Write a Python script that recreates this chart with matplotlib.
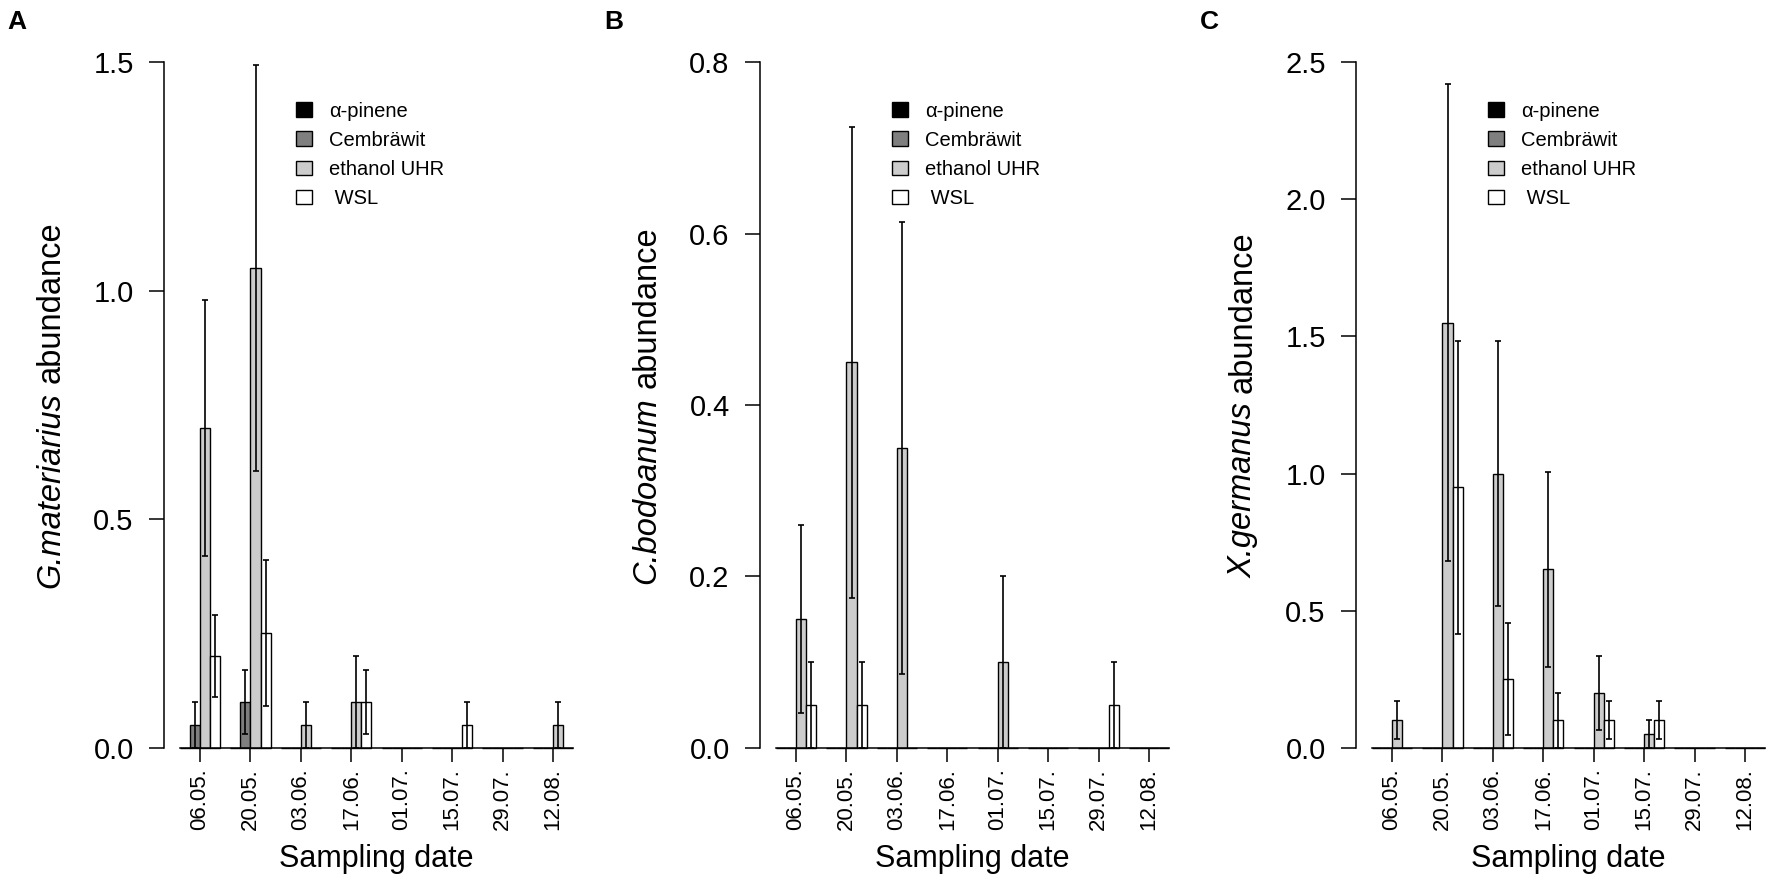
import matplotlib
matplotlib.use("Agg")
import matplotlib.pyplot as plt
import matplotlib.transforms as mtransforms
from matplotlib.patches import Patch
import numpy as np

plt.rcParams['font.family'] = ['Liberation Sans', 'DejaVu Sans']

# ---------------- data ----------------
dates = ["06.05.", "20.05.", "03.06.", "17.06.", "01.07.", "15.07.", "29.07.", "12.08."]
traps = ["α-pinene", "Cembräwit", "ethanol UHR", " WSL"]
trap_colors = ["#000000", "#7f7f7f", "#cccccc", "#ffffff"]

# Panel A: G. materiarius
a_alpha = [0, 0, 0, 0, 0, 0, 0, 0]
a_cemb = [0.05, 0.10, 0, 0, 0, 0, 0, 0]
a_eth = [0.70, 1.05, 0.05, 0.10, 0, 0, 0, 0.05]
a_wsl = [0.20, 0.25, 0, 0.10, 0, 0.05, 0, 0]
a_alpha_se = [0, 0, 0, 0, 0, 0, 0, 0]
a_cemb_se = [0.05, 0.07, 0, 0, 0, 0, 0, 0]
a_eth_se = [0.28, 0.445, 0.05, 0.10, 0, 0, 0, 0.05]
a_wsl_se = [0.09, 0.16, 0, 0.07, 0, 0.05, 0, 0]

# Panel B: C. bodoanum
b_alpha = [0, 0, 0, 0, 0, 0, 0, 0]
b_cemb = [0, 0, 0, 0, 0, 0, 0, 0]
b_eth = [0.15, 0.45, 0.35, 0, 0.10, 0, 0, 0]
b_wsl = [0.05, 0.05, 0, 0, 0, 0, 0.05, 0]
b_alpha_se = [0, 0, 0, 0, 0, 0, 0, 0]
b_cemb_se = [0, 0, 0, 0, 0, 0, 0, 0]
b_eth_se = [0.11, 0.275, 0.264, 0, 0.10, 0, 0, 0]
b_wsl_se = [0.05, 0.05, 0, 0, 0, 0, 0.05, 0]

# Panel C: X. germanus
c_alpha = [0, 0, 0, 0, 0, 0, 0, 0]
c_cemb = [0, 0, 0, 0, 0, 0, 0, 0]
c_eth = [0.10, 1.55, 1.00, 0.65, 0.20, 0.05, 0, 0]
c_wsl = [0, 0.95, 0.25, 0.10, 0.10, 0.10, 0, 0]
c_alpha_se = [0, 0, 0, 0, 0, 0, 0, 0]
c_cemb_se = [0, 0, 0, 0, 0, 0, 0, 0]
c_eth_se = [0.07, 0.87, 0.485, 0.357, 0.135, 0.05, 0, 0]
c_wsl_se = [0, 0.535, 0.205, 0.10, 0.07, 0.07, 0, 0]

panels = [
    dict(letter="A", species="G.materiarius", ymax=1.5, ystep=0.5,
         vals=[a_alpha, a_cemb, a_eth, a_wsl], ses=[a_alpha_se, a_cemb_se, a_eth_se, a_wsl_se]),
    dict(letter="B", species="C.bodoanum", ymax=0.8, ystep=0.2,
         vals=[b_alpha, b_cemb, b_eth, b_wsl], ses=[b_alpha_se, b_cemb_se, b_eth_se, b_wsl_se]),
    dict(letter="C", species="X.germanus", ymax=2.5, ystep=0.5,
         vals=[c_alpha, c_cemb, c_eth, c_wsl], ses=[c_alpha_se, c_cemb_se, c_eth_se, c_wsl_se]),
]

# ---------------- figure ----------------
W, H = 1772, 880
fig = plt.figure(figsize=(W / 100, H / 100), dpi=100)

ax_left0 = 164.2 / W
ax_w = 424.6 / W
ax_step = 596 / W
ax_bottom = (H - 775) / H
ax_h = (775 - 35) / H

n = len(dates)
ngroup = 4
lw = 1.1
lab_fs = 23.5

axes = []
ylabel_parts = []
for p, pan in enumerate(panels):
    ax = fig.add_axes([ax_left0 + p * ax_step, ax_bottom, ax_w, ax_h])
    ax.patch.set_alpha(0)
    axes.append(ax)
    ymax = pan["ymax"]
    for k in range(ngroup):
        x = np.arange(n) * 5 + 1 + k + 0.5
        v = np.array(pan["vals"][k], dtype=float)
        se = np.array(pan["ses"][k], dtype=float)
        ax.bar(x, v, width=1.0, color=trap_colors[k], edgecolor="black",
               linewidth=1.0, zorder=2)
        m = v > 0
        lower = np.minimum(se[m], v[m])
        ax.errorbar(x[m], v[m], yerr=[lower, se[m]], fmt="none", ecolor="black",
                    elinewidth=1.2, capsize=2.4, capthick=1.2, zorder=3)

    ax.set_xlim(-0.56, 41.56)
    ax.set_ylim(-0.04 * ymax, 1.04 * ymax)
    for s in ["top", "right"]:
        ax.spines[s].set_visible(False)
    ax.spines["bottom"].set_position(("data", 0))
    ax.spines["bottom"].set_bounds(1, 40)
    ax.spines["left"].set_bounds(0, ymax)
    ax.spines["bottom"].set_linewidth(lw)
    ax.spines["left"].set_linewidth(lw)

    yt = np.round(np.arange(0, ymax + 1e-9, pan["ystep"]), 2)
    ax.set_yticks(yt)
    ax.set_yticklabels([f"{t:.1f}" for t in yt])
    ax.set_xticks(np.arange(n) * 5 + 3)
    ax.set_xticklabels(dates, rotation=90)
    ax.tick_params(axis="y", length=11, width=lw, labelsize=21, pad=11)
    ax.tick_params(axis="x", length=10, width=lw, labelsize=16, pad=5)

    # y label: italic species name + regular "abundance"
    t1 = ax.text(-0.23, 0.5, pan["species"], style="italic", rotation=90,
                 fontsize=lab_fs, transform=ax.transAxes, ha="right", va="center")
    t2 = ax.text(-0.23, 0.5, "abundance", rotation=90,
                 fontsize=lab_fs, transform=ax.transAxes, ha="right", va="center")
    ylabel_parts.append((ax, t1, t2))

    ax.set_xlabel("Sampling date", fontsize=22)
    ax.xaxis.set_label_coords(0.5, -0.093)

    handles = [Patch(facecolor=c, edgecolor="black", linewidth=1.0) for c in trap_colors]
    ax.legend(handles, traps, loc="upper left", bbox_to_anchor=(0.31, 0.910),
              frameon=False, fontsize=14.5, borderpad=0, borderaxespad=0,
              handlelength=0.8, handleheight=0.72, handletextpad=0.85,
              labelspacing=0.5)

    ax.text(-0.346, 0.975, pan["letter"],
            transform=mtransforms.blended_transform_factory(ax.transAxes, fig.transFigure),
            fontsize=19, fontweight="bold", ha="center", va="center")

# place the two y-label parts end to end, centred on the axis
fig.canvas.draw()
renderer = fig.canvas.get_renderer()
gap_px = 0.278 * lab_fs * 100 / 72
for ax, t1, t2 in ylabel_parts:
    axh = ax.get_window_extent(renderer).height
    h1 = t1.get_window_extent(renderer).height
    h2 = t2.get_window_extent(renderer).height
    total = h1 + gap_px + h2
    y1 = 0.5 + (-total / 2 + h1 / 2) / axh
    y2 = 0.5 + (total / 2 - h2 / 2) / axh
    t1.set_y(y1)
    t2.set_y(y2)

fig.savefig("out.png", dpi=100)
